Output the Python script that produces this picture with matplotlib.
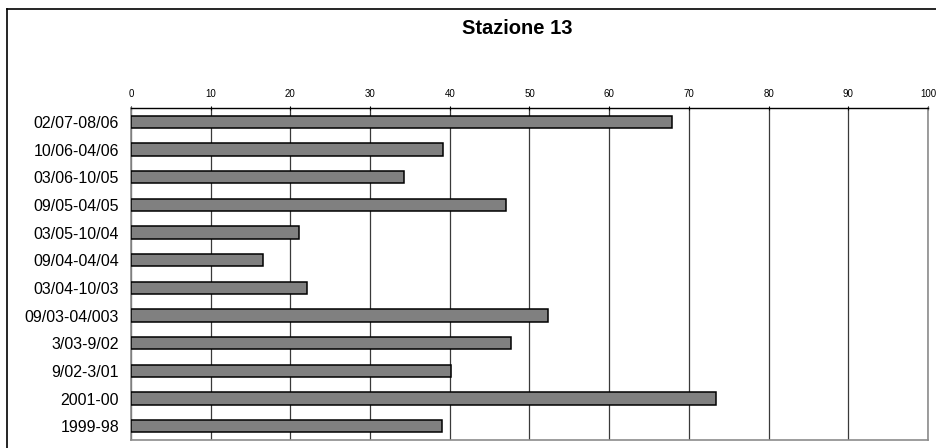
import matplotlib
matplotlib.use('Agg')
import matplotlib.pyplot as plt
from matplotlib.lines import Line2D

plt.rcParams['font.family'] = ['Liberation Sans', 'DejaVu Sans']

periods = ['02/07-08/06', '10/06-04/06', '03/06-10/05', '09/05-04/05', '03/05-10/04',
           '09/04-04/04', '03/04-10/03', '09/03-04/003', '3/03-9/02', '9/02-3/01',
           '2001-00', '1999-98']
values = [67.9, 39.2, 34.3, 47.1, 21.1, 16.5, 22.1, 52.3, 47.7, 40.1, 73.4, 39.0]
xticks = list(range(0, 101, 10))


def main():
    fig = plt.figure(figsize=(9.37, 4.48), dpi=100)
    ax = fig.add_axes([131 / 937, 1 - 440 / 448, (928 - 131) / 937, (440 - 108) / 448])

    pos = list(range(len(periods)))
    ax.barh(pos, values, height=0.44, color='#808080', edgecolor='black',
            linewidth=1.1, zorder=3)
    ax.set_ylim(len(periods) - 0.5, -0.5)
    ax.set_xlim(0, 100)

    ax.set_yticks(pos)
    ax.set_yticklabels(periods, fontsize=11.5)
    ax.tick_params(axis='y', length=0, pad=8.5)

    ax.xaxis.tick_top()
    ax.set_xticks(xticks)
    ax.set_xticklabels([str(t) for t in xticks], fontsize=7)
    ax.tick_params(axis='x', direction='inout', length=3, width=0.8, pad=5)

    ax.grid(axis='x', color='#3a3a3a', linewidth=0.9, zorder=1)
    ax.set_axisbelow(True)

    for side in ['left', 'right', 'bottom']:
        ax.spines[side].set_color('#8c8c8c')
        ax.spines[side].set_linewidth(1.2)
    ax.spines['top'].set_color('black')
    ax.spines['top'].set_linewidth(1.0)

    fig.text(517 / 937, 1 - 29 / 448, 'Stazione 13', fontsize=14.5,
             fontweight='bold', ha='center', va='center')

    # chart area border (only the left and top edges fall inside the image)
    fig.add_artist(Line2D([7 / 937, 7 / 937], [0, 1 - 9.5 / 448], color='black', lw=1.2))
    fig.add_artist(Line2D([7 / 937, 1], [1 - 9.5 / 448, 1 - 9.5 / 448], color='black', lw=1.2))

    fig.savefig('out.png', dpi=100)


if __name__ == '__main__':
    main()
